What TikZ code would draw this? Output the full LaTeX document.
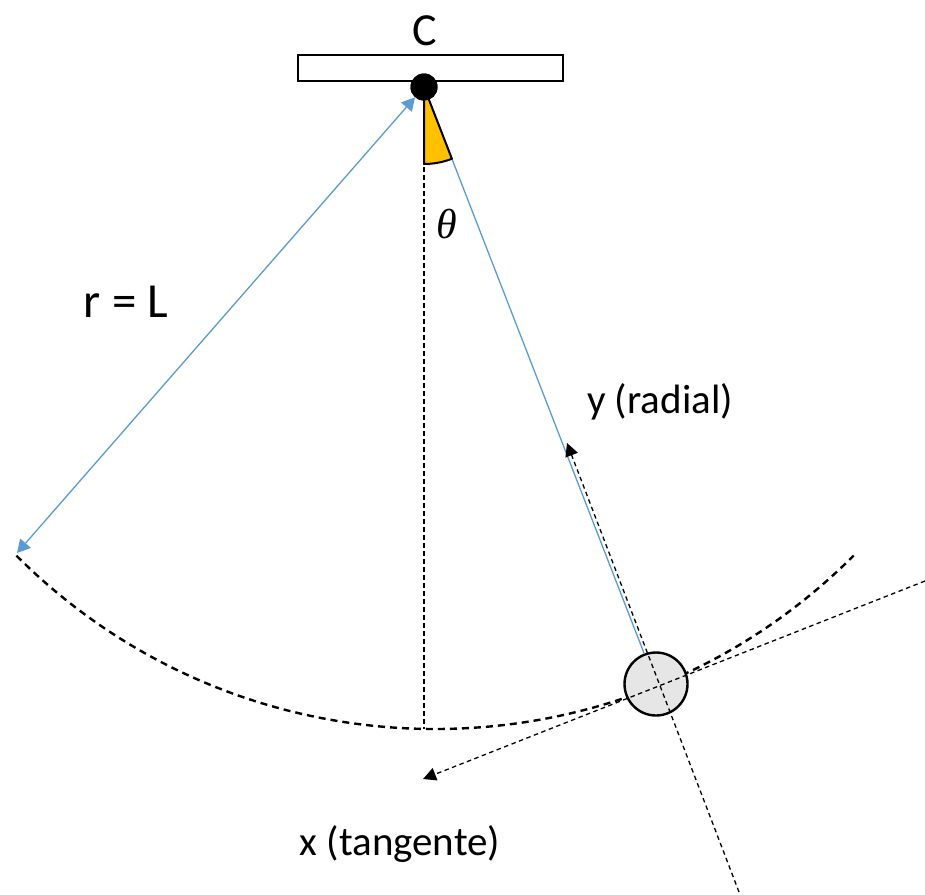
\RequirePackage{fix-cm}
\documentclass[tikz,border=0pt]{standalone}
\usepackage{fontspec}
\setmainfont{Carlito}
\newfontfamily\thetafont{Liberation Serif}
\usetikzlibrary{arrows.meta}
\definecolor{lineblue}{HTML}{5B9BD5}
\definecolor{wedgeorange}{HTML}{FFC000}
\definecolor{bobgray}{HTML}{E6E6E6}
\tikzset{
  thinblue/.style={draw=lineblue, line width=1.3pt},
  thindash/.style={draw=black, line width=1.3pt, dash pattern=on 4.5pt off 3.5pt},
  arcdash/.style={draw=black, line width=2.4pt, dash pattern=on 7pt off 5pt},
  tipblack/.style={-{Triangle[length=13pt,width=13pt]}},
  tipblue/.style={{Triangle[length=13pt,width=14pt]}-{Triangle[length=13pt,width=14pt]}},
  lbl/.style={inner sep=0pt, anchor=base, font=\fontsize{41}{48}\selectfont},
}
\begin{document}
\begin{tikzpicture}[x=1pt,y=1pt]
\useasboundingbox (0,0) rectangle (925,-894);
% ceiling bar
\node[draw=black, fill=white, line width=2.5pt, minimum width=265pt, minimum height=26pt, inner sep=0pt] (bar) at (430.5,-68) {};
\node[lbl, font=\fontsize{46}{52}\selectfont] (C) at (425,-45) {C};
% geometry
\coordinate (P) at (424,-87);
\coordinate (B) at (656,-684);
\coordinate (O) at (435,-137);
\coordinate (bottom) at (424,-729);
\coordinate (Lend) at (17,-553);
% vertical dashed line
\draw[thindash] (P) -- (bottom);
% swing arc
\draw[arcdash] (O) ++(225:592) arc[start angle=225, end angle=315, radius=592];
% bob and pivot nodes
\node[circle, draw=black, fill=bobgray, line width=2.4pt, minimum size=63pt, inner sep=0pt] (bob) at (B) {};
\node[circle, fill=black, minimum size=27pt, inner sep=0pt] (pivot) at (P) {};
% pendulum string
\draw[thinblue] (pivot.center) -- (bob);
% angle wedge
\filldraw[fill=wedgeorange, draw=black, line width=2pt, line join=round] (P) -- ++(-90:77) arc[start angle=-90, end angle=-68.76, radius=77] -- cycle;
\node[circle, fill=black, minimum size=27pt, inner sep=0pt] at (P) {};
% r = L arrow
\draw[thinblue, tipblue, fill=lineblue] (pivot) -- (Lend);
% radial and tangent axes
\coordinate (rEnd) at (739,-892);
\coordinate (rTip) at (567,-443);
\coordinate (tEnd) at (925,-581);
\coordinate (tTip) at (423,-779);
\draw[thindash, tipblack] (rEnd) -- (rTip);
\draw[thindash, tipblack] (tEnd) -- (tTip);
% labels
\node[lbl, font=\fontsize{42}{48}\thetafont\itshape] (theta) at (447,-238) {θ};
\node[lbl, font=\fontsize{49}{58}\selectfont] (rL) at (126,-317) {r = L};
\node[lbl] (yl) at (660,-413) {y (radial)};
\node[lbl] (xl) at (400,-855) {x (tangente)};
\end{tikzpicture}
\end{document}
